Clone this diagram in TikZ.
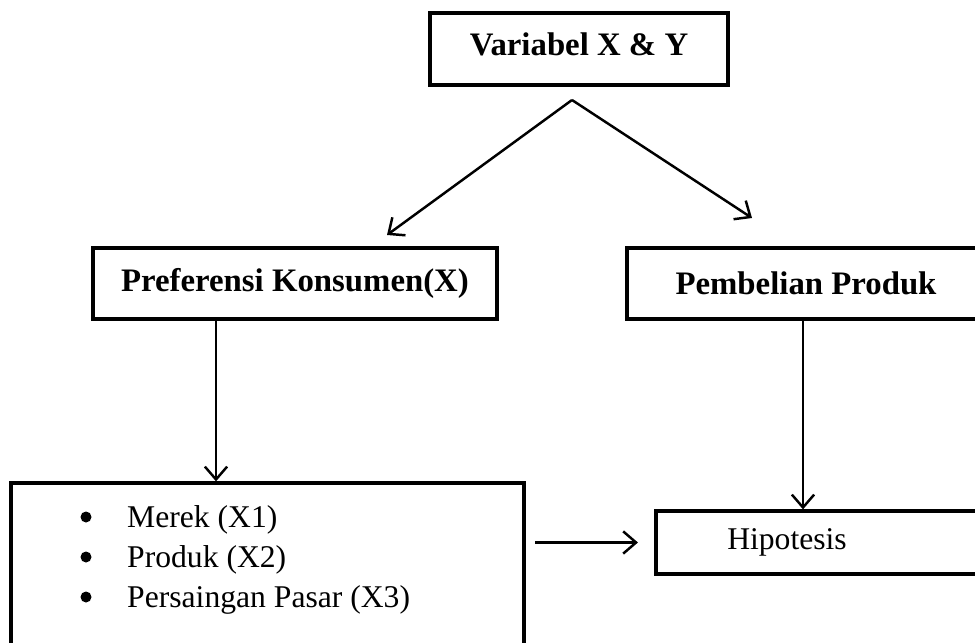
\documentclass[tikz,border=0pt]{standalone}
\usepackage{fontspec}
\setmainfont{Liberation Serif}
\usetikzlibrary{arrows.meta}

\begin{document}
\begin{tikzpicture}[x=0.3mm,y=-0.3mm,
  box/.style={draw,line width=2.8pt,inner sep=0pt},
  title/.style={font=\fontsize{28}{34}\selectfont\bfseries},
  body/.style={font=\fontsize{27}{34}\selectfont},
  arr/.style={line width=2.1pt,-{Straight Barb[length=11pt,width=19pt,line width=2.1pt]}}]
  \useasboundingbox (0,0) rectangle (975,643);

  \node[box,title,minimum width=89.4mm,minimum height=21.6mm,text depth=8pt]
  (vars) at (579,49) {Variabel X \& Y};
  \node[box,title,minimum width=121.2mm,minimum height=21.3mm]
  (pref) at (295,283.5) {Preferensi Konsumen(X)};
  \node[box,title,minimum width=107.4mm,minimum height=21.3mm]
  (beli) at (806,283.5) {Pembelian Produk};
  \node[box,minimum width=153.9mm,minimum height=52.2mm]
  (factors) at (267.5,570) {};
  \node[body,align=left,anchor=west,inner sep=0pt]
  (items) at (127,560) {Merek (X1)\\ Produk (X2)\\ Persaingan Pasar (X3)};
  \foreach \y in {517,557,597}
    \fill (86,\y) circle (5.5);
  \node[box,minimum width=100.2mm,minimum height=18.9mm]
  (hipo) at (823,542.5) {};
  \node[body] (hipotext) at (787,542.5) {Hipotesis};

  \coordinate (split) at (572,100);
  \coordinate (toleft) at (387,235);
  \coordinate (toright) at (752,218);
  \draw[arr] (split) -- (toleft);
  \draw[arr] (split) -- (toright);
  \draw[arr] (pref.south -| 216,0) -- (factors.north -| 216,0);
  \draw[arr] (beli.south -| 803,0) -- (hipo.north -| 803,0);
  \draw[arr,shorten <=8pt,shorten >=14pt] (factors.east |- hipo.west) -- (hipo.west);
\end{tikzpicture}
\end{document}
